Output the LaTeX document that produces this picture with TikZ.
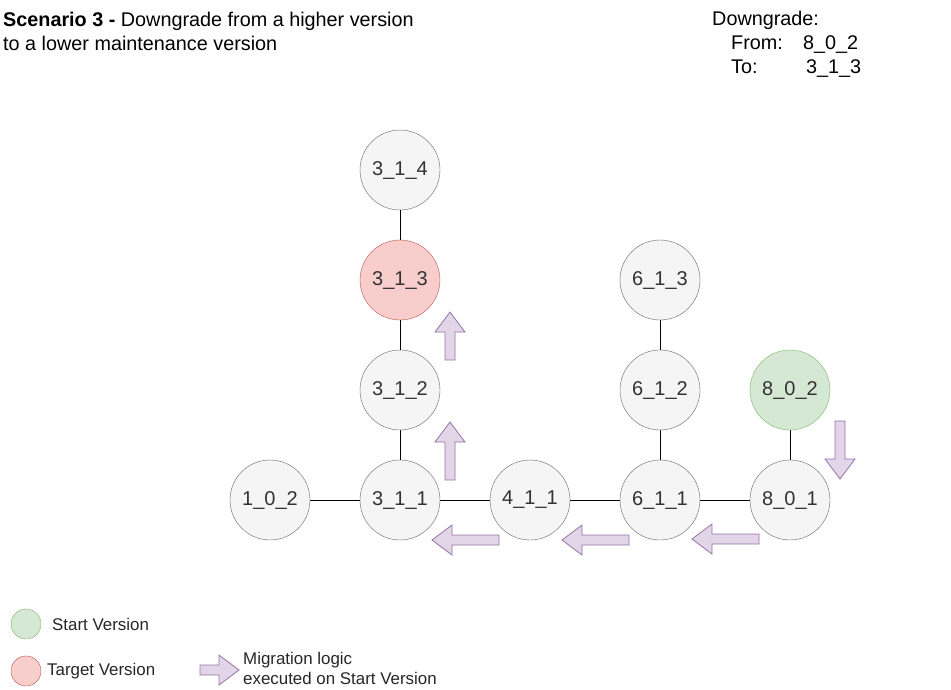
\documentclass[tikz,border=0pt]{standalone}
\usepackage{fontspec}
\setmainfont{Liberation Sans}
\definecolor{gfill}{HTML}{F5F5F5}
\definecolor{gline}{HTML}{666666}
\definecolor{sfill}{HTML}{D5E8D4}
\definecolor{sline}{HTML}{82B366}
\definecolor{tfill}{HTML}{F8CECC}
\definecolor{tline}{HTML}{B85450}
\definecolor{mfill}{HTML}{E1D5E7}
\definecolor{mline}{HTML}{9673A6}
\definecolor{txt}{HTML}{333333}
\tikzset{
  ver/.style={circle, draw=gline, fill=gfill, minimum size=80pt, inner sep=0pt, text=txt, font=\fontsize{20}{23}\selectfont},
  startver/.style={ver, draw=sline, fill=sfill},
  targetver/.style={ver, draw=tline, fill=tfill},
  legcirc/.style={circle, minimum size=30pt, inner sep=0pt},
  link/.style={draw=black, line width=0.8pt},
  marrow/.style={draw=mline, fill=mfill, line width=0.8pt, line join=miter},
  lbl/.style={anchor=west, inner sep=0pt, font=\fontsize{19.8}{23}\selectfont},
  leg/.style={anchor=west, inner sep=0pt, text=black!85, font=\fontsize{16.9}{20}\selectfont},
}
\begin{document}
\begin{tikzpicture}[x=1pt, y=-1pt]
\useasboundingbox (0,0) rectangle (951,689);
% title
\node[lbl, anchor=base west] (t1) at (3,26) {\textbf{Scenario 3 -} Downgrade from a higher version};
\node[lbl, anchor=base west] (t2) at (3,50) {to a lower maintenance version};
\node[lbl, anchor=base west] (d1) at (712,25) {Downgrade:};
\node[lbl, anchor=base west] (d2) at (731,49) {From:};
\node[lbl, anchor=base west] (d3) at (803,49) {8\_0\_2};
\node[lbl, anchor=base west] (d4) at (731,73) {To:};
\node[lbl, anchor=base west] (d5) at (806,73) {3\_1\_3};
% version nodes
\node[ver] (v314) at (400,170) {3\_1\_4};
\node[targetver] (v313) at (400,280) {3\_1\_3};
\node[ver] (v312) at (400,390) {3\_1\_2};
\node[ver] (v311) at (400,500) {3\_1\_1};
\node[ver] (v102) at (270,500) {1\_0\_2};
\node[ver] (v411) at (530,500) {4\_1\_1};
\node[ver] (v611) at (660,500) {6\_1\_1};
\node[ver] (v612) at (660,390) {6\_1\_2};
\node[ver] (v613) at (660,280) {6\_1\_3};
\node[startver] (v802) at (790,390) {8\_0\_2};
\node[ver] (v801) at (790,500) {8\_0\_1};
% links
\draw[link] (v314) -- (v313);
\draw[link] (v313) -- (v312);
\draw[link] (v312) -- (v311);
\draw[link] (v102) -- (v311);
\draw[link] (v311) -- (v411);
\draw[link] (v411) -- (v611);
\draw[link] (v611) -- (v801);
\draw[link] (v611) -- (v612);
\draw[link] (v612) -- (v613);
\draw[link] (v802) -- (v801);
% migration arrows
\draw[marrow] (445,360) -- (445,332) -- (435,332) -- (450,312) -- (465,332) -- (455,332) -- (455,360) -- cycle;
\draw[marrow] (445,480) -- (445,442) -- (435,442) -- (450,422) -- (465,442) -- (455,442) -- (455,480) -- cycle;
\draw[marrow] (835,421) -- (835,459) -- (825,459) -- (840,479) -- (855,459) -- (845,459) -- (845,421) -- cycle;
\draw[marrow] (759,534) -- (712,534) -- (712,524) -- (692,539) -- (712,554) -- (712,544) -- (759,544) -- cycle;
\draw[marrow] (629,535) -- (582,535) -- (582,525) -- (562,540) -- (582,555) -- (582,545) -- (629,545) -- cycle;
\draw[marrow] (499,535) -- (452,535) -- (452,525) -- (432,540) -- (452,555) -- (452,545) -- (499,545) -- cycle;
% legend
\node[legcirc, draw=sline, fill=sfill] (ls) at (26,624) {};
\node[legcirc, draw=tline, fill=tfill] (lt) at (26,671) {};
\node[leg] (lst) at (52,624) {Start Version};
\node[leg] (ltt) at (47,671) {Target Version};
\draw[marrow] (200,665) -- (219,665) -- (219,655) -- (239,670) -- (219,685) -- (219,675) -- (200,675) -- cycle;
\node[leg, anchor=base west] (lm1) at (243,664) {Migration logic};
\node[leg, anchor=base west] (lm2) at (243,684) {executed on Start Version};
\end{tikzpicture}
\end{document}
